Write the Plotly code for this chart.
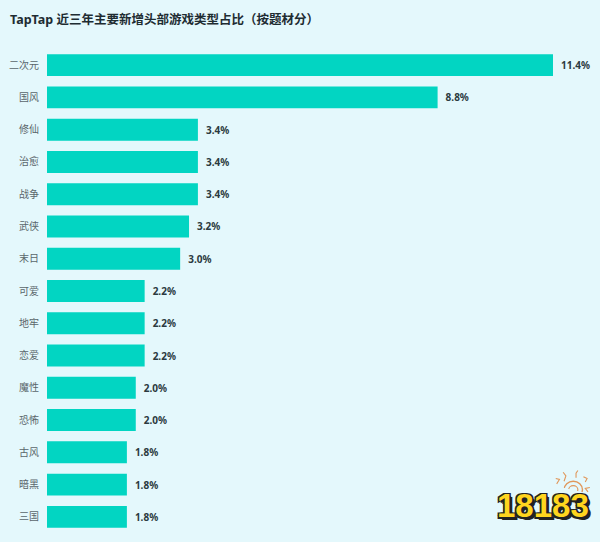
import plotly.graph_objects as go

categories = ["二次元", "国风", "修仙", "治愈", "战争", "武侠", "末日", "可爱", "地牢", "恋爱", "魔性", "恐怖", "古风", "暗黑", "三国"]
values = [11.4, 8.8, 3.4, 3.4, 3.4, 3.2, 3.0, 2.2, 2.2, 2.2, 2.0, 2.0, 1.8, 1.8, 1.8]
value_labels = ["11.4%", "8.8%", "3.4%", "3.4%", "3.4%", "3.2%", "3.0%", "2.2%", "2.2%", "2.2%", "2.0%", "2.0%", "1.8%", "1.8%", "1.8%"]
chart_title = "TapTap 近三年主要新增头部游戏类型占比（按题材分）"
watermark = "18183"

CJK = "Noto Sans CJK SC"
LATIN = "Noto Sans, Noto Sans CJK SC"
W, H = 600, 542
L, T, B = 47, 49, 9


def px(x):
    return x / W


def py(y):
    return 1 - y / H


fig = go.Figure(go.Bar(
    y=categories, x=values, orientation="h",
    marker=dict(color="#02D5C2", line=dict(width=0)),
    text=value_labels, texttemplate="\u2002%{text}", textposition="outside", cliponaxis=False,
    textfont=dict(family=LATIN, size=10, color="#2B3A40", weight="bold"),
    hoverinfo="skip",
))

ring_shapes = [
    dict(type="path", xref="paper", yref="paper", layer="above",
         path=f"M {px(x0)} {py(y0)} L {px(x1)} {py(y1)} L {px(x2)} {py(y2)}",
         line=dict(color="#E0975A", width=1.1))
    for x0, y0, x1, y1, x2, y2 in [
        (561, 484, 563, 478, 560, 474), (574, 480, 574, 475, 576, 472),
        (553, 487, 556, 482, 552, 481), (584, 485, 586, 481, 582, 479),
        (587, 496, 584, 492, 589, 491),
    ]
] + [
    dict(type="circle", xref="paper", yref="paper", layer="above",
         x0=px(561), x1=px(581), y0=py(503), y1=py(484),
         line=dict(color="#E0975A", width=1.4)),
    dict(type="circle", xref="paper", yref="paper", layer="above",
         x0=px(566), x1=px(576), y0=py(498), y1=py(489),
         line=dict(color="#E0975A", width=1.2)),
    dict(type="path", xref="paper", yref="paper", layer="above",
         path=f"M {px(551)} {py(489)} L {px(584)} {py(497)} L {px(575)} {py(508)} L {px(551)} {py(505)} Z",
         fillcolor="#E4F8FC", line=dict(width=0)),
]

fig.update_layout(
    width=W, height=H, autosize=False,
    margin=dict(l=L, r=0, t=T, b=B, pad=0),
    paper_bgcolor="#E4F8FC", plot_bgcolor="#E4F8FC",
    bargap=0.32, showlegend=False,
    font=dict(family=CJK),
    xaxis=dict(range=[0, (W - L) / (506 / 11.4)], visible=False, fixedrange=True),
    yaxis=dict(autorange="reversed", showgrid=False, zeroline=False, showline=False,
               ticks="outside", ticklen=5, tickcolor="rgba(0,0,0,0)",
               tickfont=dict(family=CJK, size=10, color="#5A666B"), fixedrange=True),
    title=dict(text=chart_title, x=px(10), xanchor="left", y=py(20), yanchor="middle",
               font=dict(family=LATIN, size=12.5, color="#1E2C32", weight="bold")),
    shapes=ring_shapes,
    annotations=[dict(
        text=watermark, xref="paper", yref="paper", x=px(538), y=py(511),
        xanchor="center", yanchor="middle", showarrow=False,
        font=dict(family="Liberation Sans", size=33, color="#FFD51E", weight="bold",
                  shadow="1.5px 1.5px 0 #222,-1.5px -1.5px 0 #222,1.5px -1.5px 0 #222,-1.5px 1.5px 0 #222,3px 3px 0 #222"),
    )],
)

fig.write_html("out.html", config=dict(displayModeBar=False),
               post_script="document.body.style.margin='0';document.documentElement.style.background='#E4F8FC';")
